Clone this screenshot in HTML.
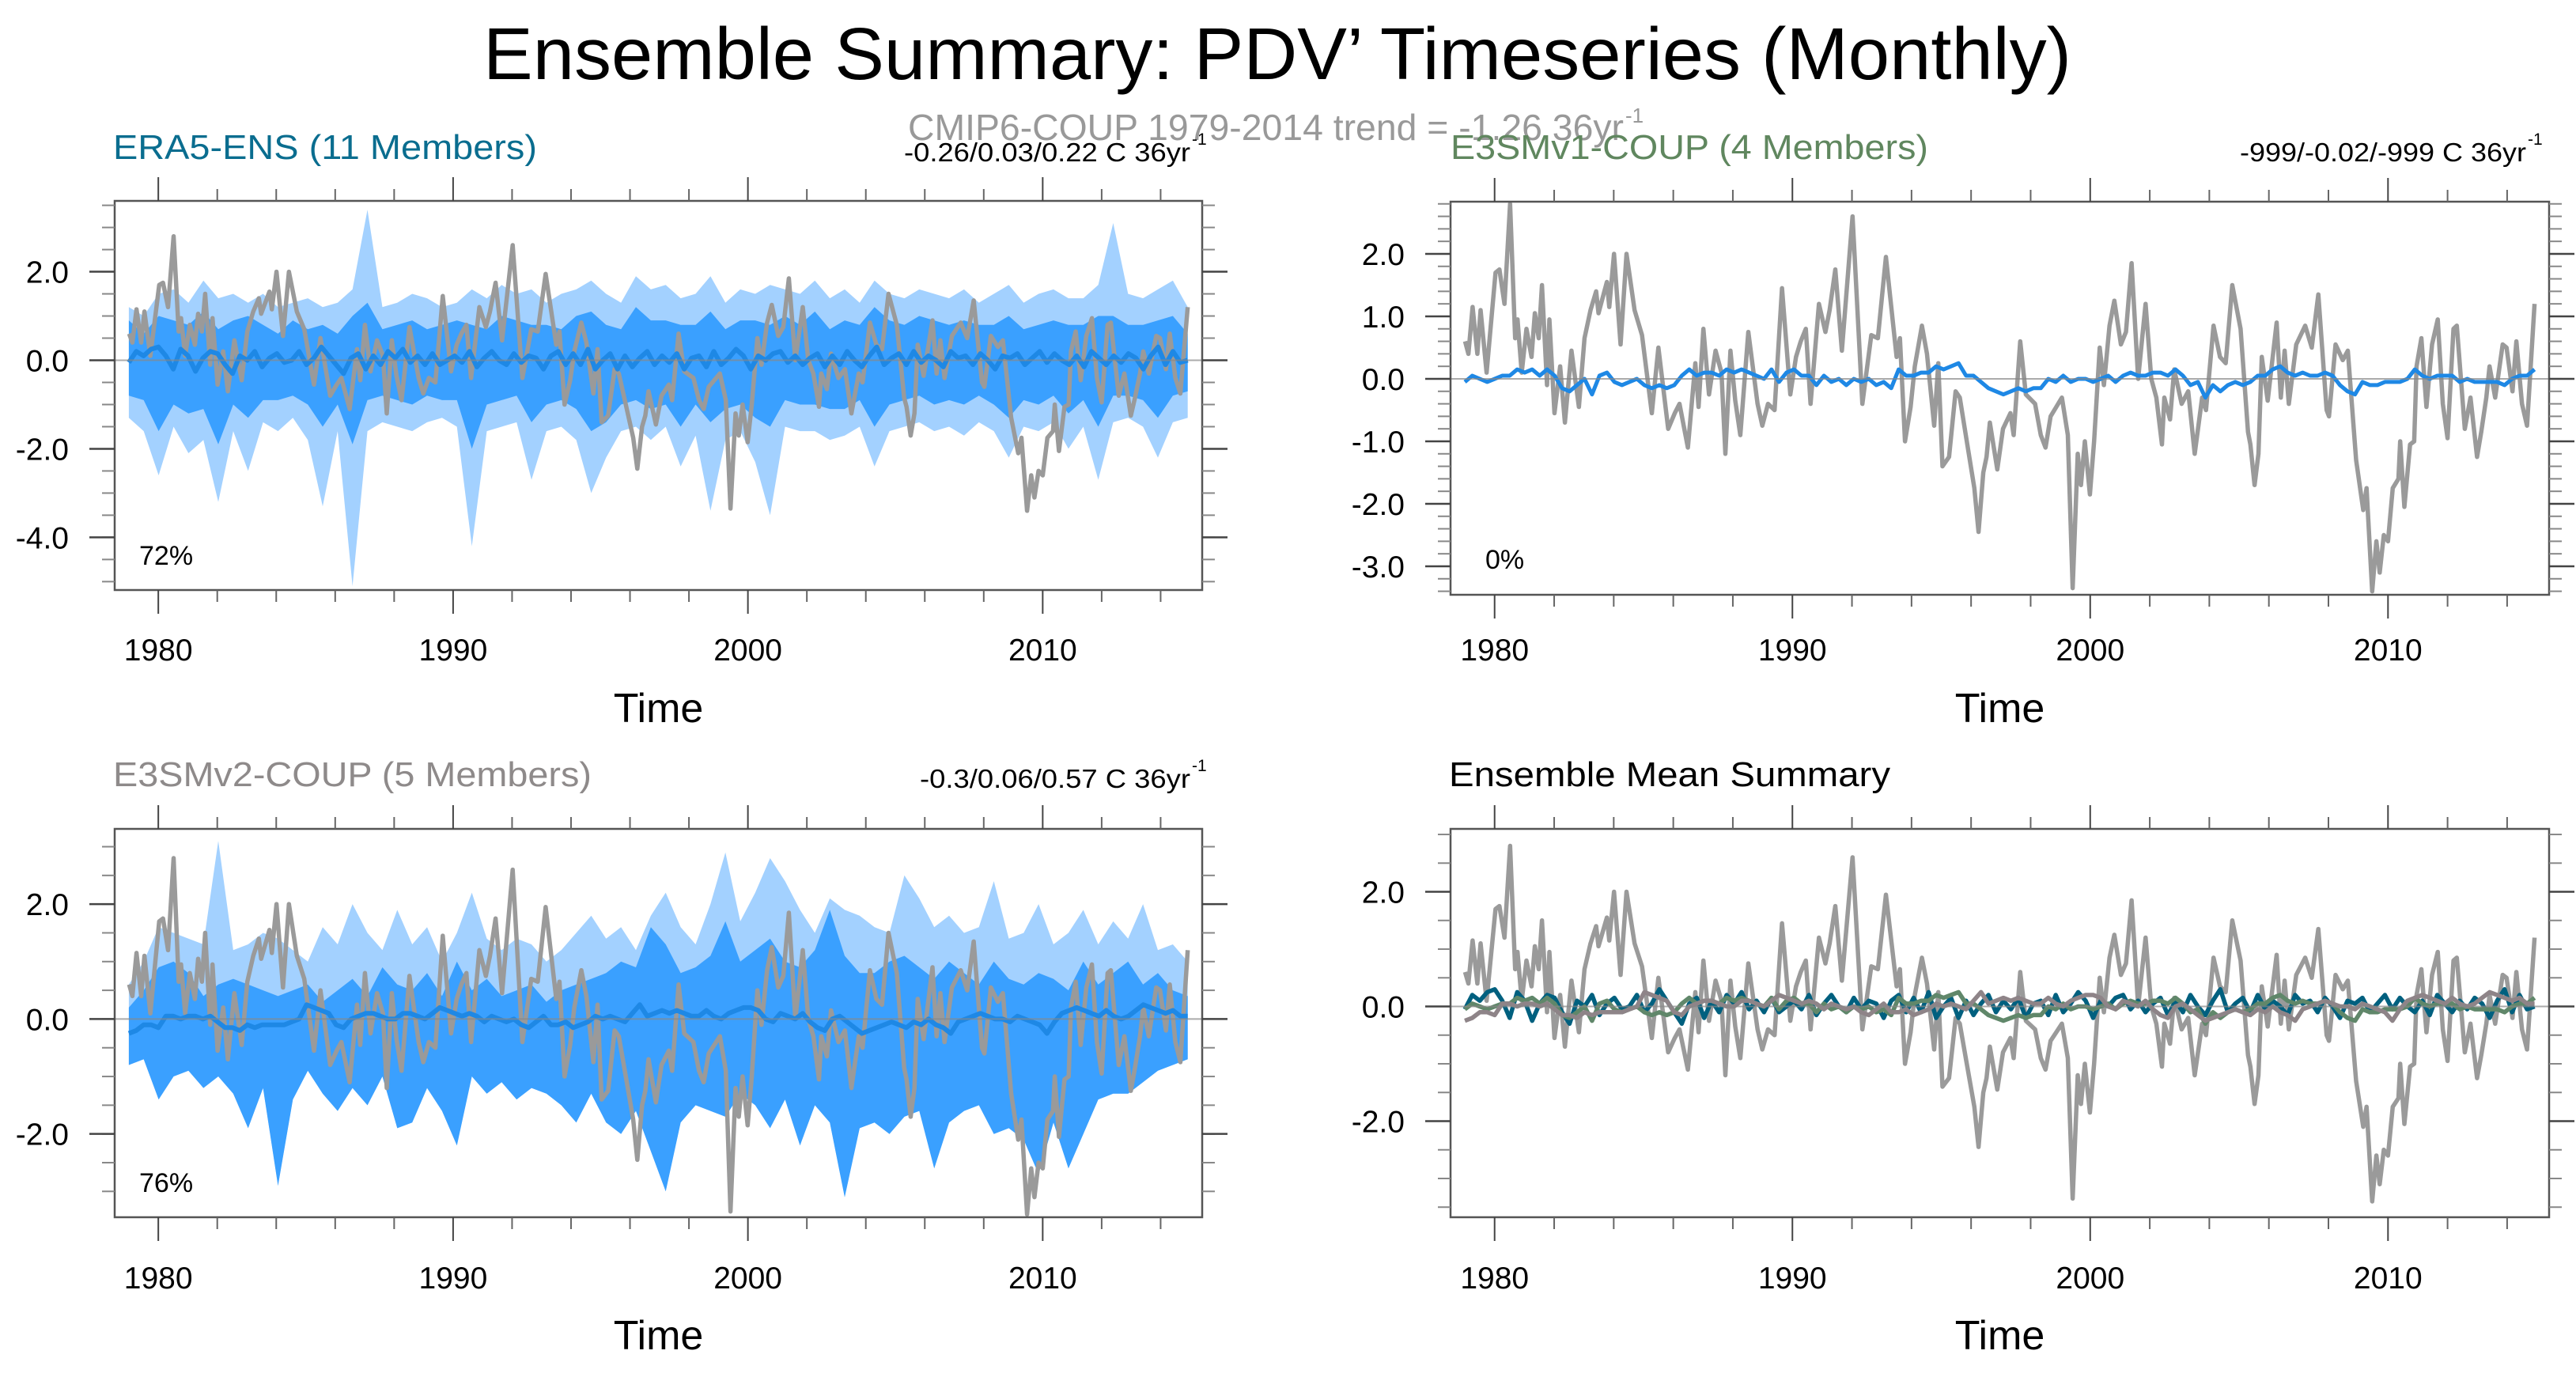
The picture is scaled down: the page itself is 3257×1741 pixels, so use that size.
<!DOCTYPE html>
<html><head><meta charset="utf-8"><style>
html,body{margin:0;padding:0;background:#fff;}
svg{display:block;font-family:"Liberation Sans",sans-serif;}
</style></head><body>
<svg id="fig" width="3257" height="1741" viewBox="0 0 3257 1741" xmlns="http://www.w3.org/2000/svg">
<rect width="3257" height="1741" fill="#fff"/>
<text x="611" y="100" font-size="93" textLength="2008" lengthAdjust="spacingAndGlyphs">Ensemble Summary: PDV’ Timeseries (Monthly)</text>
<text x="1148" y="177" font-size="46" fill="#999" textLength="905" lengthAdjust="spacingAndGlyphs">CMIP6-COUP 1979-2014 trend = -1.26 36yr</text>
<text x="2055" y="155" font-size="26" fill="#999">-1</text>
<text x="143" y="201" font-size="44" fill="#0a6d8f" textLength="536" lengthAdjust="spacingAndGlyphs">ERA5-ENS (11 Members)</text>
<text x="1143" y="204" font-size="33" textLength="362" lengthAdjust="spacingAndGlyphs">-0.26/0.03/0.22 C 36yr</text>
<text x="1507" y="183" font-size="21">-1</text>
<text x="1834" y="201" font-size="44" fill="#60875f" textLength="604" lengthAdjust="spacingAndGlyphs">E3SMv1-COUP (4 Members)</text>
<text x="2832" y="204" font-size="33" textLength="362" lengthAdjust="spacingAndGlyphs">-999/-0.02/-999 C 36yr</text>
<text x="3196" y="183" font-size="21">-1</text>
<text x="143" y="994" font-size="44" fill="#8e8a8a" textLength="605" lengthAdjust="spacingAndGlyphs">E3SMv2-COUP (5 Members)</text>
<text x="1163" y="996" font-size="33" textLength="342" lengthAdjust="spacingAndGlyphs">-0.3/0.06/0.57 C 36yr</text>
<text x="1507" y="975" font-size="21">-1</text>
<text x="1832" y="994" font-size="44" textLength="558" lengthAdjust="spacingAndGlyphs">Ensemble Mean Summary</text>
<text x="176" y="714" font-size="34">72%</text>
<text x="1878" y="719" font-size="34">0%</text>
<text x="176" y="1507" font-size="34">76%</text>
</svg>
<script>
// ---- data ----
const obsT=[1979.01,1979.12,1979.26,1979.42,1979.53,1979.73,1980.03,1980.16,1980.33,1980.52,1980.69,1980.77,1980.91,1981.07,1981.24,1981.35,1981.48,1981.59,1981.76,1981.84,1982.01,1982.20,1982.36,1982.58,1982.83,1983.02,1983.22,1983.41,1983.49,1983.77,1983.85,1984.01,1984.23,1984.43,1984.70,1984.95,1985.28,1985.50,1985.83,1986.05,1986.21,1986.49,1986.74,1986.85,1987.01,1987.20,1987.42,1987.62,1987.75,1987.92,1988.08,1988.25,1988.52,1988.83,1988.99,1989.18,1989.40,1989.65,1989.93,1990.12,1990.28,1990.45,1990.61,1990.89,1991.11,1991.25,1991.44,1991.66,1992.02,1992.35,1992.65,1992.87,1993.14,1993.50,1993.61,1993.78,1993.97,1994.11,1994.35,1994.52,1994.76,1994.90,1995.04,1995.26,1995.48,1995.62,1995.84,1996.11,1996.25,1996.41,1996.52,1996.63,1996.88,1997.07,1997.32,1997.43,1997.65,1997.84,1998.15,1998.34,1998.50,1998.67,1998.86,1999.05,1999.25,1999.41,1999.58,1999.69,1999.82,1999.99,2000.13,2000.32,2000.46,2000.65,2000.81,2001.03,2001.20,2001.39,2001.61,2001.86,2002.05,2002.22,2002.41,2002.49,2002.68,2002.82,2003.07,2003.29,2003.51,2003.76,2003.89,2004.14,2004.36,2004.55,2004.77,2005.05,2005.30,2005.38,2005.52,2005.65,2005.76,2005.96,2006.26,2006.40,2006.53,2006.67,2006.92,2007.22,2007.44,2007.66,2007.94,2008.02,2008.24,2008.48,2008.65,2008.93,2009.17,2009.28,2009.47,2009.61,2009.72,2009.86,2010.00,2010.16,2010.35,2010.41,2010.55,2010.74,2010.88,2010.96,2011.12,2011.29,2011.48,2011.67,2011.84,2012.00,2012.20,2012.31,2012.58,2012.77,2012.99,2013.13,2013.30,2013.41,2013.60,2013.85,2013.98,2014.18,2014.31,2014.50,2014.67,2014.92];
const obsV=[0.6,0.4,1.15,0.4,1.1,0.1,1.7,1.75,1.2,2.8,0.65,0.95,0.1,0.8,0.35,1.05,0.65,1.5,-0.1,0.95,-0.55,0.2,-0.7,0.45,-0.45,0.65,1.1,1.4,1.05,1.55,1.15,2.0,0.55,2.0,1.1,0.7,-0.55,0.5,-0.8,-0.55,-0.4,-1.1,0.25,-0.45,0.8,-0.25,0.45,0.1,-1.2,0.45,-0.35,-0.9,0.75,-0.4,-0.75,-0.4,-0.5,1.45,-0.25,0.35,0.6,0.8,-0.4,1.2,0.75,1.1,1.75,0.45,2.6,-0.4,0.7,0.65,1.95,0.35,0.65,-1.0,-0.45,0.2,0.85,0.4,-0.75,0.25,-1.4,-1.25,-0.2,-0.3,-0.95,-1.75,-2.45,-1.5,-1.25,-0.7,-1.45,-0.8,-0.55,-0.9,0.6,-0.25,-0.4,-0.9,-1.1,-0.6,-0.45,-0.3,-0.9,-3.35,-1.2,-1.7,-1.0,-1.85,-1.0,0.5,-0.1,0.85,1.25,0.55,0.75,1.85,0.0,1.2,0.0,-0.3,-1.05,-0.3,-0.65,0.15,-0.4,-0.2,-1.2,-0.3,-0.5,0.85,0.35,0.25,1.5,0.8,-0.85,-1.05,-1.7,-1.2,0.35,-0.35,0.9,-0.3,0.45,-0.4,0.55,0.85,0.5,1.35,-0.5,-0.6,0.55,0.3,0.45,-1.3,-2.1,-1.75,-3.4,-2.6,-3.1,-2.5,-2.6,-1.75,-1.6,-1.0,-2.05,-1.05,-1.0,0.2,0.65,-0.45,0.55,0.95,-0.4,-0.95,0.8,0.85,-0.8,-0.3,-1.25,-0.85,-0.3,0.2,-0.3,0.55,0.5,-0.2,0.6,-0.4,-0.75,1.2];
// ERA5 envelopes (semiannual)
const era5OuterUp=[1.2,1.0,1.5,1.6,1.3,1.8,1.4,1.5,1.3,1.5,1.2,1.3,1.4,1.2,1.3,1.6,3.4,1.2,1.3,1.5,1.4,1.2,1.3,1.6,1.4,1.7,1.5,1.6,1.3,1.5,1.6,1.8,1.5,1.3,1.9,1.6,1.7,1.4,1.5,1.9,1.3,1.6,1.5,1.7,1.6,1.5,1.8,1.4,1.6,1.3,1.8,1.5,1.4,1.6,1.5,1.4,1.6,1.3,1.5,1.7,1.3,1.5,1.6,1.4,1.4,1.7,3.1,1.5,1.4,1.6,1.8,1.2];
const era5OuterLo=[-1.3,-1.6,-2.6,-1.5,-2.1,-1.8,-3.2,-1.6,-2.5,-1.4,-1.6,-1.3,-1.8,-3.3,-1.6,-5.1,-1.6,-1.4,-1.5,-1.6,-1.4,-1.3,-1.5,-4.2,-1.6,-1.5,-1.4,-2.7,-1.6,-1.5,-1.8,-3.0,-2.2,-1.6,-1.5,-1.8,-1.5,-2.4,-1.7,-3.4,-1.8,-1.6,-2.3,-3.5,-1.5,-1.6,-1.6,-1.8,-1.7,-1.5,-2.4,-1.6,-1.5,-1.4,-1.6,-1.5,-1.7,-1.4,-1.6,-2.2,-1.5,-1.6,-1.4,-2.0,-1.5,-2.7,-1.4,-1.3,-1.5,-2.2,-1.4,-1.3];
const era5InnerUp=[0.9,0.6,1.0,0.9,0.8,1.1,0.7,0.9,1.0,0.8,0.6,0.9,0.7,0.8,0.6,1.0,1.3,0.7,0.8,0.9,0.7,0.8,0.9,0.8,0.7,1.0,0.9,0.8,0.8,0.7,1.0,1.1,0.8,0.7,1.2,0.9,0.9,0.8,0.8,1.1,0.7,0.9,0.9,0.8,1.0,0.8,1.1,0.7,0.9,0.8,1.2,0.9,0.8,1.0,0.9,0.8,0.9,0.8,0.8,1.0,0.7,0.8,0.9,0.8,0.8,1.0,1.0,0.8,0.8,0.9,1.0,0.6];
const era5InnerLo=[-0.8,-0.9,-1.6,-1.0,-1.2,-1.1,-1.9,-1.0,-1.3,-0.9,-0.9,-0.8,-1.0,-1.5,-1.0,-1.9,-0.9,-0.8,-0.9,-1.0,-0.8,-0.9,-0.9,-2.0,-1.0,-0.9,-0.8,-1.4,-1.0,-0.9,-1.1,-1.6,-1.4,-1.0,-0.9,-1.1,-1.0,-1.5,-1.0,-1.4,-1.1,-1.0,-1.3,-1.5,-0.9,-1.0,-1.0,-1.1,-1.1,-0.9,-1.5,-1.0,-0.9,-0.8,-1.0,-0.9,-1.0,-0.8,-1.0,-1.3,-0.9,-1.0,-0.8,-1.2,-0.9,-1.5,-0.8,-0.8,-0.9,-1.3,-0.8,-0.7];
// E3SMv2 envelopes (semiannual)
const v2OuterUp=[0.6,1.0,1.6,1.5,1.4,1.3,3.1,1.2,1.3,1.5,1.4,1.2,1.0,1.6,1.3,2.0,1.5,1.2,1.9,1.3,1.6,1.0,1.5,2.2,1.4,1.2,1.4,1.3,1.0,1.2,1.5,1.8,1.4,1.6,1.2,1.8,2.2,1.6,1.3,2.0,2.9,1.7,2.2,2.8,2.4,1.9,1.5,2.1,1.9,1.8,1.6,1.5,2.5,2.1,1.6,1.8,1.5,1.6,2.4,1.4,1.5,2.0,1.3,1.5,1.9,1.3,1.7,1.4,2.0,1.2,1.3,1.0];
const v2InnerUp=[0.2,0.5,0.9,1.0,0.8,0.4,0.6,0.7,0.6,0.5,0.4,0.5,0.6,0.3,0.5,0.7,0.4,0.9,0.6,0.5,0.8,0.4,1.0,0.5,0.7,0.4,0.5,0.6,0.3,0.5,0.6,0.7,0.8,1.0,0.9,1.6,1.3,0.8,0.9,1.1,1.7,1.0,1.2,1.4,1.0,0.9,1.2,1.9,1.1,0.8,0.8,1.0,1.1,0.9,0.7,1.0,0.8,0.6,1.0,0.7,0.6,0.8,0.7,0.5,1.0,0.6,0.8,1.0,0.6,0.8,0.5,0.4];
const v2InnerLo=[-0.8,-0.7,-1.4,-1.0,-0.9,-1.2,-1.0,-1.3,-1.9,-1.2,-2.9,-1.4,-0.9,-1.3,-1.6,-1.2,-1.5,-1.0,-1.9,-1.8,-1.2,-1.6,-2.2,-1.0,-1.3,-1.1,-1.4,-1.2,-1.3,-1.5,-1.8,-1.3,-1.8,-2.0,-1.6,-2.3,-3.0,-1.8,-1.5,-1.6,-1.7,-1.3,-1.5,-1.9,-1.4,-2.2,-1.5,-1.8,-3.1,-1.9,-1.8,-2.0,-1.7,-1.6,-2.6,-1.8,-1.6,-1.5,-2.0,-1.9,-2.1,-2.7,-1.8,-2.6,-2.0,-1.4,-1.3,-1.3,-1.1,-0.9,-0.8,-0.7];
// ensemble means (quarterly)
const era5Mean=[-0.05,0.2,0.1,0.25,0.3,0.1,-0.2,0.25,0.1,-0.25,0.05,0.2,0.15,-0.1,-0.3,0.1,0.0,0.2,-0.15,0.05,0.15,-0.05,0.0,0.2,-0.1,0.05,0.3,0.1,-0.1,-0.3,0.05,0.15,-0.2,0.1,-0.1,0.2,0.05,0.25,-0.05,0.1,-0.1,0.15,-0.1,0.0,0.1,-0.05,0.2,-0.15,0.05,0.2,0.0,-0.1,0.15,-0.05,0.1,0.05,-0.2,0.1,0.2,-0.1,0.15,-0.1,0.25,-0.2,0.0,0.15,-0.2,0.1,-0.15,0.05,0.2,-0.1,0.1,-0.05,0.15,-0.2,0.05,0.1,-0.15,0.2,-0.1,0.05,0.25,0.1,-0.2,0.1,0.0,0.15,0.2,-0.05,0.1,-0.1,0.05,0.15,-0.15,0.1,-0.1,0.2,0.0,-0.15,0.1,0.3,-0.1,0.05,0.15,-0.1,0.2,-0.05,0.1,0.0,-0.15,0.2,0.05,0.1,-0.1,0.15,0.0,-0.2,0.1,0.05,0.15,-0.1,0.05,0.2,-0.05,0.15,0.0,-0.1,0.1,-0.15,0.2,0.05,-0.1,0.1,-0.05,0.15,0.05,-0.2,0.1,0.3,-0.1,0.2,-0.05,0.0];
const v1Mean=[-0.05,0.05,0.0,-0.05,0.0,0.05,0.05,0.15,0.1,0.15,0.05,0.15,0.05,-0.15,-0.2,-0.1,0.0,-0.25,0.05,0.1,-0.05,-0.1,-0.05,0.0,-0.1,-0.15,-0.1,-0.15,-0.1,0.05,0.15,0.05,0.1,0.1,0.05,0.15,0.1,0.15,0.1,0.05,0.0,0.15,-0.05,0.1,0.15,0.05,0.05,-0.1,0.05,-0.05,0.0,-0.1,0.0,-0.05,0.0,-0.1,-0.05,-0.15,0.15,0.05,0.05,0.1,0.1,0.2,0.15,0.2,0.25,0.05,0.05,-0.05,-0.15,-0.2,-0.25,-0.2,-0.15,-0.2,-0.15,-0.15,0.0,-0.05,0.05,-0.05,0.0,0.0,-0.05,0.0,0.05,-0.05,0.05,0.1,0.05,0.05,0.1,0.1,0.05,0.15,0.05,-0.1,-0.05,-0.3,-0.1,-0.2,-0.1,-0.05,-0.1,-0.05,0.05,0.05,0.15,0.2,0.1,0.05,0.1,0.05,0.05,0.1,0.05,-0.1,-0.2,-0.25,-0.05,-0.1,-0.1,-0.05,-0.05,-0.05,0.0,0.15,0.05,0.0,0.05,0.05,0.05,-0.05,0.0,-0.05,-0.05,-0.05,-0.05,-0.1,0.0,0.05,0.05,0.15];
const v2Mean=[-0.25,-0.2,-0.1,-0.1,-0.15,0.05,0.05,0.0,0.05,0.05,0.0,0.05,-0.05,-0.15,-0.15,-0.2,-0.1,-0.15,-0.1,-0.1,-0.1,-0.1,-0.05,0.0,0.25,0.2,0.15,0.1,-0.1,-0.15,0.0,0.05,0.1,0.1,0.05,0.0,0.0,0.1,0.1,0.05,0.0,0.1,0.2,0.15,0.1,0.05,0.1,0.05,-0.05,0.05,0.0,-0.05,0.0,-0.1,-0.15,-0.05,0.05,-0.1,-0.1,-0.05,-0.15,-0.1,-0.05,0.05,0.0,0.05,0.0,-0.05,0.1,0.25,0.05,0.1,0.15,0.1,0.15,0.1,0.05,0.05,0.15,0.05,0.0,0.1,0.15,0.2,0.2,0.15,0.0,-0.05,0.1,0.05,0.0,0.1,-0.05,-0.15,-0.2,0.0,0.05,-0.05,-0.15,-0.25,-0.2,-0.15,-0.1,-0.05,-0.1,-0.15,-0.05,-0.1,0.0,-0.1,-0.15,-0.25,-0.05,0.0,0.05,0.1,0.05,0.0,0.0,-0.05,0.05,0.0,-0.05,-0.1,-0.25,-0.05,0.1,0.15,0.2,0.15,0.1,0.05,0.15,0.05,0.0,0.05,0.15,0.25,0.2,0.15,0.1,0.15,0.05,0.05];
const xMajorLabels=["1980","1990","2000","2010"];
const xMajorYears=[1980,1990,2000,2010];

// ---- layout ----
const NS="http://www.w3.org/2000/svg";
const svg=document.getElementById('fig');
const tMin=1978.52,tMax=2015.41,tStart=1979.0,tEnd=2014.92;
const panels={
 era5:{x0:145,x1:1520,y0:254,y1:746,ymin:-5.19,ymax:3.6,maj:[-4,-2,0,2],minStep:0.5,minFrom:-5,minTo:3.5,labY:835,timeY:913},
 v1:{x0:1834,x1:3223,y0:255,y1:752,ymin:-3.456,ymax:2.835,maj:[-3,-2,-1,0,1,2],minStep:0.2,minFrom:-3.4,minTo:2.8,labY:835,timeY:913},
 v2:{x0:145,x1:1520,y0:1048,y1:1539,ymin:-3.45,ymax:3.31,maj:[-2,0,2],minStep:0.5,minFrom:-3,minTo:3,labY:1629,timeY:1706},
 ens:{x0:1834,x1:3223,y0:1048,y1:1539,ymin:-3.676,ymax:3.097,maj:[-2,0,2],minStep:0.5,minFrom:-3.5,minTo:3,labY:1629,timeY:1706}
};
function sx(p,t){return p.x0+(t-tMin)/(tMax-tMin)*(p.x1-p.x0);}
function sy(p,v){return p.y0+(p.ymax-v)/(p.ymax-p.ymin)*(p.y1-p.y0);}
function mk(tag,attrs,parent){const e=document.createElementNS(NS,tag);for(const k in attrs)e.setAttribute(k,attrs[k]);(parent||svg).appendChild(e);return e;}
function times(n){const a=[];for(let i=0;i<n;i++)a.push(tStart+i*(tEnd-tStart)/(n-1));return a;}
function linePath(p,ts,vs){return vs.map((v,i)=>(i?'L':'M')+sx(p,ts[i]).toFixed(1)+','+sy(p,v).toFixed(1)).join('');}
function bandPath(p,up,lo){const ts=times(up.length);let d=linePath(p,ts,up);for(let i=lo.length-1;i>=0;i--)d+='L'+sx(p,ts[i]).toFixed(1)+','+sy(p,lo[i]).toFixed(1);return d+'Z';}

function drawPanel(key,p,draw){
 const g=mk('g',{});
 
 
 const cid='clip-'+key;
 const cp=mk('clipPath',{id:cid},g);mk('rect',{x:p.x0,y:p.y0,width:p.x1-p.x0,height:p.y1-p.y0},cp);
 const plot=mk('g',{'clip-path':'url(#'+cid+')'},g);
 
 
 draw(plot);
 // zero line
 const z=mk('line',{x1:p.x0,x2:p.x1,y1:sy(p,0),y2:sy(p,0),stroke:'#888','stroke-width':2,'stroke-opacity':0.7},g);
 
 
 draw.after&&draw.after(plot);
 // box
 const b=mk('rect',{x:p.x0,y:p.y0,width:p.x1-p.x0,height:p.y1-p.y0,fill:'none',stroke:'#555','stroke-width':2.5},g);
 
 
 // x ticks
 for(let yr=1980;yr<=2014;yr+=2){
  const maj=xMajorYears.indexOf(yr)>=0;const L=maj?30:15;const x=sx(p,yr);
  mk('line',{x1:x,x2:x,y1:p.y0,y2:p.y0-L,stroke:maj?'#444':'#666','stroke-width':2},g);
  mk('line',{x1:x,x2:x,y1:p.y1,y2:p.y1+L,stroke:maj?'#444':'#666','stroke-width':2},g);
 }
 xMajorLabels.forEach((lab,i)=>{
  const t=mk('text',{x:sx(p,xMajorYears[i]),y:p.labY,'font-size':39,'text-anchor':'middle'},g);
  
  
  t.textContent=lab;
 });
 const tt=mk('text',{x:(p.x0+p.x1)/2,y:p.timeY,'font-size':52,'text-anchor':'middle'},g);
 
 
 tt.textContent='Time';
 // y ticks
 for(let v=p.minFrom;v<=p.minTo+1e-6;v+=p.minStep){
  const y=sy(p,v);
  mk('line',{x1:p.x0,x2:p.x0-16,y1:y,y2:y,stroke:'#888','stroke-width':2},g);
  mk('line',{x1:p.x1,x2:p.x1+16,y1:y,y2:y,stroke:'#888','stroke-width':2},g);
 }
 p.maj.forEach(v=>{
  const y=sy(p,v);
  mk('line',{x1:p.x0,x2:p.x0-32,y1:y,y2:y,stroke:'#444','stroke-width':2.5},g);
  mk('line',{x1:p.x1,x2:p.x1+32,y1:y,y2:y,stroke:'#444','stroke-width':2.5},g);
  const t=mk('text',{x:p.x0-58,y:y+14,'font-size':39,'text-anchor':'end'},g);
  
  
  t.textContent=v.toFixed(1);
 });
}
const q=times(era5Mean.length);
function obsLine(p,g){const e=mk('path',{d:linePath(p,obsT,obsV),fill:'none',stroke:'#9a9a9a','stroke-width':5.5,'stroke-linejoin':'round'},g);
 
 }
function meanLine(p,g,vals,color,name,w){const e=mk('path',{d:linePath(p,times(vals.length),vals),fill:'none',stroke:color,'stroke-width':w||6,'stroke-linejoin':'round'},g);
 
 }
function band(p,g,up,lo,color,name){const e=mk('path',{d:bandPath(p,up,lo),fill:color,stroke:'none'},g);
 
 }

drawPanel('era5',panels.era5,g=>{const p=panels.era5;
 band(p,g,era5OuterUp,era5OuterLo,'#a3d1ff','era5-outer-band');
 band(p,g,era5InnerUp,era5InnerLo,'#3aa0ff','era5-inner-band');
 obsLine(p,g);meanLine(p,g,era5Mean,'#1e88e5','era5-ensemble-mean');});
drawPanel('v1',panels.v1,g=>{const p=panels.v1;obsLine(p,g);meanLine(p,g,v1Mean,'#1e88e5','e3smv1-ensemble-mean',5);});
drawPanel('v2',panels.v2,g=>{const p=panels.v2;
 band(p,g,v2OuterUp,v2InnerLo,'#a3d1ff','e3smv2-outer-band');
 band(p,g,v2InnerUp,v2InnerLo,'#3aa0ff','e3smv2-inner-band');
 obsLine(p,g);meanLine(p,g,v2Mean,'#1e88e5','e3smv2-ensemble-mean');});
drawPanel('ens',panels.ens,g=>{const p=panels.ens;obsLine(p,g);
 meanLine(p,g,era5Mean,'#00607f','era5-mean-summary-line',5.5);
 meanLine(p,g,v1Mean,'#60876a','e3smv1-mean-summary-line',5.5);
 meanLine(p,g,v2Mean,'#8e8488','e3smv2-mean-summary-line',5.5);});
</script>
</body></html>
